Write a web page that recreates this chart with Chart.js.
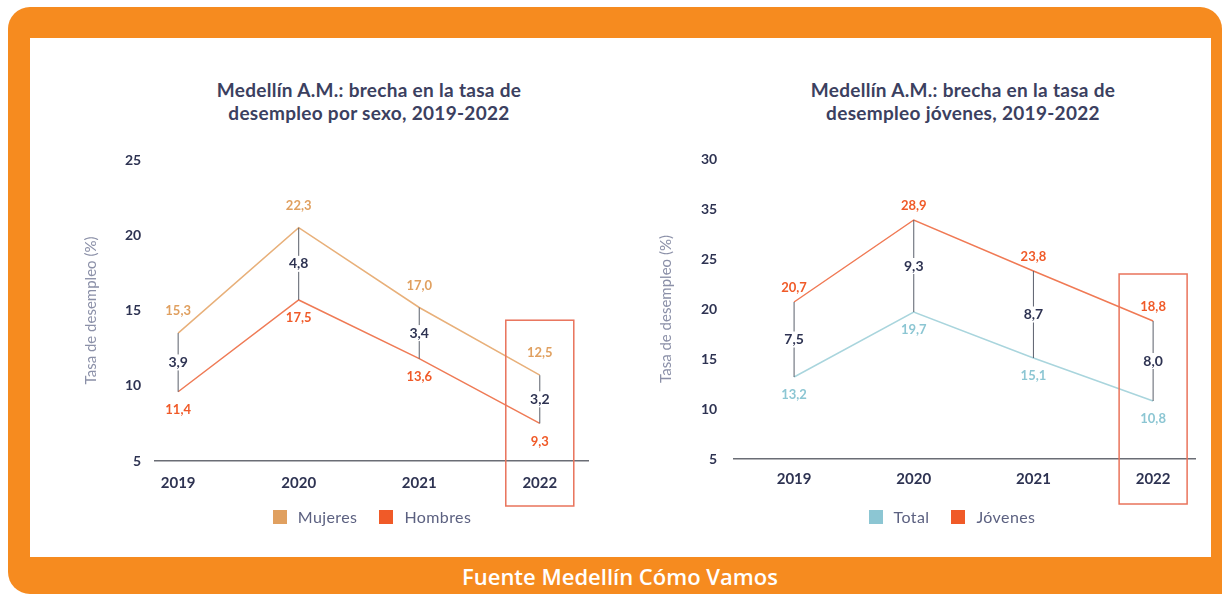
<!DOCTYPE html>
<html lang="es">
<head>
<meta charset="utf-8">
<title>Medellín A.M.: brecha en la tasa de desempleo</title>
<script src="https://cdn.jsdelivr.net/npm/chart.js@4.4.1/dist/chart.umd.min.js"></script>
<style>
  html, body { margin: 0; padding: 0; background: #fff; }
  body { width: 1222px; height: 594px; position: relative; overflow: hidden; font-family: Lato, sans-serif; }
  #frame { position: absolute; left: 8px; top: 7px; width: 1214px; height: 587px; background: #F68B1F; border-radius: 22px 22px 0 22px; }
  #panel { position: absolute; left: 30px; top: 38px; width: 1181px; height: 519px; background: #fff; }
  .box { position: absolute; top: 38px; height: 519px; }
  .title { position: absolute; top: 78px; width: 420px; text-align: center; font-weight: 700; font-size: 19px; letter-spacing: 0.3px; line-height: 23px; color: #3B4060; }
  .legend { position: absolute; top: 507px; width: 300px; display: flex; justify-content: center; font-size: 16px; letter-spacing: 0.4px; color: #5C6181; }
  .legend span.item { display: flex; align-items: center; margin: 0 11px; }
  .legend span.sw { width: 14px; height: 14px; margin-right: 11px; display: inline-block; }
  #source { position: absolute; left: 9px; width: 1222px; top: 561px; text-align: center; color: #fff; font: 600 22px "Open Sans", sans-serif; }
</style>
</head>
<body>
<div id="frame"></div>
<div id="panel"></div>

<div class="title" style="left:159px">Medellín A.M.: brecha en la tasa de<br>desempleo por sexo, 2019-2022</div>
<div class="title" style="left:753px">Medellín A.M.: brecha en la tasa de<br>desempleo jóvenes, 2019-2022</div>

<div class="box" style="left:30px; width:590px"><canvas id="sexo"></canvas></div>
<div class="box" style="left:620px; width:591px"><canvas id="jovenes"></canvas></div>

<div class="legend" id="legend-sexo" style="left:222px"></div>
<div class="legend" id="legend-jovenes" style="left:802px"></div>

<div id="source">Fuente Medellín Cómo Vamos</div>

<script>
// values
const years = ['2019', '2020', '2021', '2022'];

const mujeres = [15.3, 22.3, 17.0, 12.5];
const hombres = [11.4, 17.5, 13.6, 9.3];
const brechaSexo = [3.9, 4.8, 3.4, 3.2];
const sexoTicks = ['5', '10', '15', '20', '25'];

const jovenes = [20.7, 28.9, 23.8, 18.8];
const total = [13.2, 19.7, 15.1, 10.8];
const brechaJovenes = [7.5, 9.3, 8.7, 8.0];
const jovenesTicks = ['5', '10', '15', '20', '25', '35', '30'];

// in the reference the left axis labels sit about 1.8 points below the plotted values
const SEXO_SHIFT = 1.8;

const navy = '#2E3352';
const fmt = v => v.toFixed(1).replace('.', ',');
const points = arr => arr.map((v, i) => ({ x: i, y: v }));

Chart.defaults.font.family = 'Lato, sans-serif';
Chart.defaults.animation = false;

// connectors, value labels, gap labels and the box around the last year
const gapLabels = {
  id: 'gapLabels',
  afterDatasetsDraw(chart, args, opts) {
    const ctx = chart.ctx;
    const up = chart.getDatasetMeta(0).data;
    const low = chart.getDatasetMeta(1).data;
    ctx.save();

    ctx.strokeStyle = '#5a5f6b';
    ctx.lineWidth = 1;
    up.forEach((p, i) => {
      ctx.beginPath();
      ctx.moveTo(p.x, p.y);
      ctx.lineTo(low[i].x, low[i].y);
      ctx.stroke();
    });

    ctx.textAlign = 'center';
    ctx.textBaseline = 'middle';
    ctx.font = '700 13px Lato';
    chart.data.datasets.forEach((ds, d) => {
      const dy = d === 0 ? opts.upperOffset : opts.lowerOffset;
      ctx.fillStyle = ds.labelColor;
      chart.getDatasetMeta(d).data.forEach((p, i) => {
        ctx.fillText(fmt(ds.data[i].y), p.x, p.y + dy);
      });
    });

    ctx.font = '700 14px Lato';
    opts.gaps.forEach((g, i) => {
      const x = up[i].x;
      const y = (up[i].y + low[i].y) / 2;
      const t = fmt(g);
      const w = ctx.measureText(t).width + 4;
      ctx.fillStyle = '#fff';
      ctx.fillRect(x - w / 2, y - 8, w, 16);
      ctx.fillStyle = navy;
      ctx.fillText(t, x, y);
    });

    const last = up.length - 1;
    const bx = up[last].x;
    const boxTop = up[last].y + opts.upperOffset - 33;
    const boxBottom = chart.chartArea.bottom + 45;
    ctx.strokeStyle = '#E9735B';
    ctx.lineWidth = 1.5;
    ctx.strokeRect(bx - 34, boxTop, 68, boxBottom - boxTop);

    ctx.restore();
  }
};

function yearAxis(min, max, pad) {
  return {
    type: 'linear',
    min: min,
    max: max,
    afterBuildTicks: s => { s.ticks = years.map((_, i) => ({ value: i })); },
    ticks: { callback: (v, i) => years[i], color: navy, font: { size: 15, weight: 'bold' }, padding: pad, autoSkip: false, maxRotation: 0 },
    grid: { display: false, drawTicks: false },
    border: { display: true, color: '#6a6d75', width: 1.5 }
  };
}

function rateTitle(top, bottom) {
  return { display: true, text: 'Tasa de desempleo (%)', color: '#8B90A8', font: { size: 15 }, padding: { top: top, bottom: bottom } };
}

function legendHtml(ds) {
  return '<span class="item"><span class="sw" style="background:' + ds.labelColor + '"></span>' + ds.label + '</span>';
}

const sexoChart = new Chart(document.getElementById('sexo'), {
  type: 'line',
  data: {
    datasets: [
      { label: 'Mujeres', data: points(mujeres), borderColor: '#E8B07A', labelColor: '#E0A060', borderWidth: 1.5, pointRadius: 0, tension: 0 },
      { label: 'Hombres', data: points(hombres), borderColor: '#EF7B56', labelColor: '#F05A28', borderWidth: 1.5, pointRadius: 0, tension: 0 }
    ]
  },
  options: {
    responsive: true,
    maintainAspectRatio: false,
    layout: { padding: { left: 0, right: 32, top: 122, bottom: 52 } },
    plugins: {
      legend: { display: false },
      tooltip: { enabled: false },
      gapLabels: { upperOffset: -22, lowerOffset: 18, gaps: brechaSexo }
    },
    scales: {
      x: yearAxis(-0.19, 3.4, 13),
      y: {
        min: Number(sexoTicks[0]) + SEXO_SHIFT,
        max: Number(sexoTicks[sexoTicks.length - 1]) + SEXO_SHIFT,
        afterBuildTicks: s => { s.ticks = sexoTicks.map(t => ({ value: Number(t) + SEXO_SHIFT })); },
        ticks: { callback: (v, i) => sexoTicks[i], color: navy, font: { size: 14, weight: 'bold' }, padding: 14 },
        grid: { display: false, drawTicks: false },
        border: { display: false },
        title: rateTitle(52, 11)
      }
    }
  },
  plugins: [gapLabels]
});

const jovenesChart = new Chart(document.getElementById('jovenes'), {
  type: 'line',
  data: {
    datasets: [
      { label: 'Jóvenes', data: points(jovenes), borderColor: '#F07A55', labelColor: '#F05A28', borderWidth: 1.5, pointRadius: 0, tension: 0 },
      { label: 'Total', data: points(total), borderColor: '#A9D5DD', labelColor: '#8CC6D3', borderWidth: 1.5, pointRadius: 0, tension: 0 }
    ]
  },
  options: {
    responsive: true,
    maintainAspectRatio: false,
    layout: { padding: { left: 0, right: 16, top: 121, bottom: 58 } },
    plugins: {
      legend: { display: false },
      tooltip: { enabled: false },
      gapLabels: { upperOffset: -14, lowerOffset: 18, gaps: brechaJovenes }
    },
    scales: {
      x: yearAxis(-0.5, 3.35, 11),
      y: {
        min: 5,
        max: 35,
        ticks: { stepSize: 5, callback: (v, i) => jovenesTicks[i], color: navy, font: { size: 14, weight: 'bold' }, padding: 17 },
        grid: { display: false, drawTicks: false },
        border: { display: false },
        title: rateTitle(37, 9)
      }
    }
  },
  plugins: [gapLabels]
});

document.getElementById('legend-sexo').innerHTML = sexoChart.data.datasets.map(legendHtml).join('');
// the reference lists Total first in this legend
document.getElementById('legend-jovenes').innerHTML = [1, 0].map(d => legendHtml(jovenesChart.data.datasets[d])).join('');
</script>
</body>
</html>
